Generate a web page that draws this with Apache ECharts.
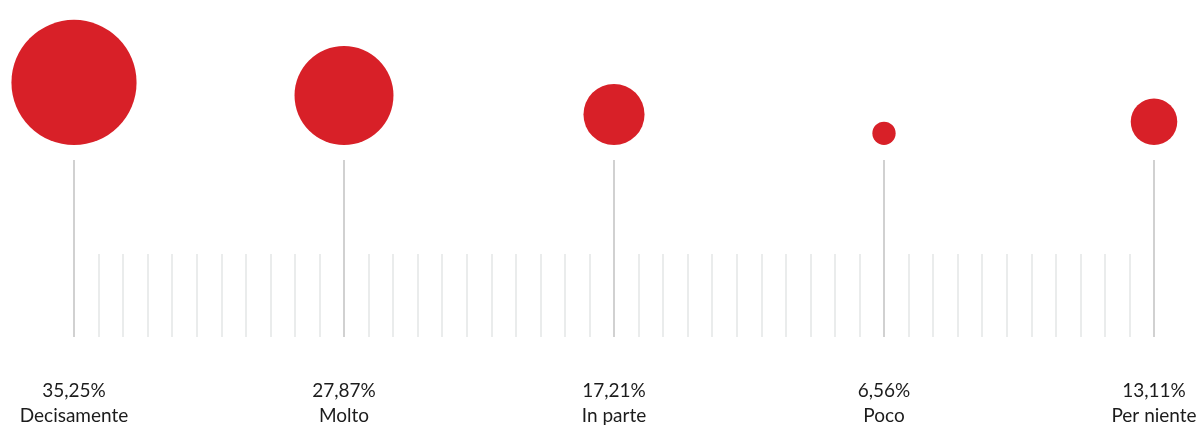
<!DOCTYPE html>
<html>
<head>
<meta charset="utf-8">
<script src="https://cdn.jsdelivr.net/npm/echarts@6/dist/echarts.min.js"></script>
<style>
  html, body { margin: 0; padding: 0; background: #fff; }
  #chart { width: 1201px; height: 428px; }
</style>
</head>
<body>
<div id="chart"></div>
<script>
const categories = ['Decisamente', 'Molto', 'In parte', 'Poco', 'Per niente']
const values = [35.25, 27.87, 17.21, 6.56, 13.11]
const valueLabels = ['35,25%', '27,87%', '17,21%', '6,56%', '13,11%']

const RED = '#d82028'
const SIZE_PER_POINT = 3.55

const chart = echarts.init(document.getElementById('chart'), null, { renderer: 'canvas' })

const axisRange = { min: 0, max: categories.length - 1, interval: 1 }

chart.setOption({
  animation: false,
  grid: [
    // ruler with the stems and labels
    { left: 74, right: 47, top: 0, bottom: 91 },
    // bubbles, sitting on a common baseline
    { left: 74, right: 47, top: 0, bottom: 283 },
  ],
  xAxis: [
    {
      type: 'value',
      gridIndex: 0,
      ...axisRange,
      axisLine: { show: false },
      splitLine: { show: false },
      axisTick: {
        show: true,
        inside: true,
        length: 177,
        lineStyle: { color: '#c2c2c2', width: 1.5 },
      },
      minorTick: {
        show: true,
        splitNumber: 11,
        length: 83,
        lineStyle: { color: '#e3e6e6', width: 1.5 },
      },
      axisLabel: {
        margin: 41,
        showMinLabel: true,
        showMaxLabel: true,
        fontFamily: 'Lato',
        fontSize: 19,
        lineHeight: 25,
        color: '#1c1c1c',
        formatter: (v) => valueLabels[v] + '\n' + categories[v],
      },
    },
    { type: 'value', gridIndex: 1, ...axisRange, show: false },
  ],
  yAxis: [
    { type: 'value', gridIndex: 0, min: 0, max: 1, show: false },
    { type: 'value', gridIndex: 1, min: 0, max: 1, show: false },
  ],
  series: [
    {
      type: 'scatter',
      xAxisIndex: 1,
      yAxisIndex: 1,
      symbol: 'circle',
      symbolOffset: [0, '-50%'],
      itemStyle: { color: RED, opacity: 1 },
      data: values.map((v, i) => ({ value: [i, 0], symbolSize: v * SIZE_PER_POINT })),
    },
  ],
})
</script>
</body>
</html>
